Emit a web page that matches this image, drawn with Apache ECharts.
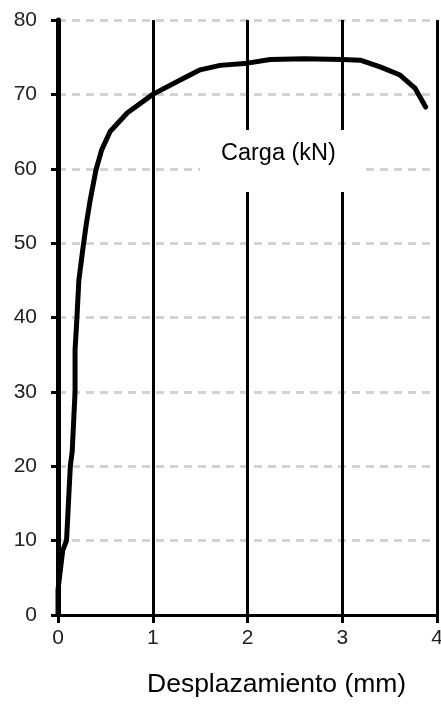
<!DOCTYPE html>
<html>
<head>
<meta charset="utf-8">
<script src="https://cdn.jsdelivr.net/npm/echarts@6/dist/echarts.min.js"></script>
<style>
  html, body { margin: 0; padding: 0; background: #fff; }
  #chart { width: 441px; height: 707px; }
</style>
</head>
<body>
<div id="chart"></div>
<script>
// desplazamiento (mm) vs carga (kN)
const desplazamiento = [0, 0.0, 0.05, 0.09, 0.13, 0.15, 0.18, 0.18, 0.2, 0.22, 0.26, 0.3, 0.34, 0.4, 0.46,
  0.55, 0.73, 1.0, 1.3, 1.5, 1.71, 2.0, 2.24, 2.6, 3.0, 3.19, 3.4, 3.61, 3.77, 3.88];
const carga = [0, 3.4, 8.7, 10, 20, 22, 30, 35.6, 40, 45, 49, 52.7, 55.8, 59.8, 62.5,
  65, 67.5, 70, 72, 73.3, 73.9, 74.2, 74.7, 74.8, 74.7, 74.6, 73.7, 72.6, 70.8, 68.3];
const xTicks = [0, 1, 2, 3, 4];
const yTicks = [0, 10, 20, 30, 40, 50, 60, 70, 80];

const font = "Liberation Sans";
const chart = echarts.init(document.getElementById("chart"));

chart.setOption({
  animation: false,
  grid: { left: 58, right: 4, top: 20, bottom: 92, containLabel: false, outerBoundsMode: "none" },
  xAxis: {
    type: "value",
    min: xTicks[0],
    max: xTicks[xTicks.length - 1],
    interval: 1,
    axisLine: { show: true, onZero: false, lineStyle: { color: "#000", width: 3 } },
    axisTick: { show: true, length: 8, lineStyle: { color: "#000", width: 3 } },
    axisLabel: { color: "#222", fontSize: 21, fontFamily: font, margin: 13 },
    splitLine: { show: true, lineStyle: { color: "#000", width: 3 } },
  },
  yAxis: [
    {
      type: "value",
      min: yTicks[0],
      max: yTicks[yTicks.length - 1],
      interval: 10,
      axisLine: { show: true, onZero: false, lineStyle: { color: "#000", width: 4 } },
      axisTick: { show: true, length: 7, lineStyle: { color: "#000", width: 3 } },
      axisLabel: { color: "#222", fontSize: 21, fontFamily: font, margin: 21 },
      splitLine: { show: true, lineStyle: { color: "#d2d2d2", width: 3, type: [8, 6] } },
    },
    {
      // right border at 4 mm
      type: "value",
      position: "right",
      min: 0,
      max: 80,
      axisLine: { show: true, lineStyle: { color: "#000", width: 5 } },
      axisTick: { show: false },
      axisLabel: { show: false },
      splitLine: { show: false },
    },
  ],
  series: [
    {
      type: "line",
      data: desplazamiento.map((d, i) => [d, carga[i]]),
      showSymbol: false,
      symbol: "none",
      lineStyle: { color: "#000", width: 5, join: "round", cap: "round" },
      z: 5,
    },
  ],
  graphic: [
    {
      type: "rect",
      left: 200,
      top: 130,
      shape: { width: 165, height: 62 },
      style: { fill: "#fff" },
      z: 10,
    },
    {
      type: "text",
      left: 221,
      top: 142,
      style: { text: "Carga (kN)", fill: "#000", font: "23.5px " + font },
      z: 11,
    },
    {
      type: "text",
      left: 147,
      top: 671,
      style: { text: "Desplazamiento (mm)", fill: "#000", font: "26.5px " + font },
      z: 11,
    },
  ],
});
</script>
</body>
</html>
